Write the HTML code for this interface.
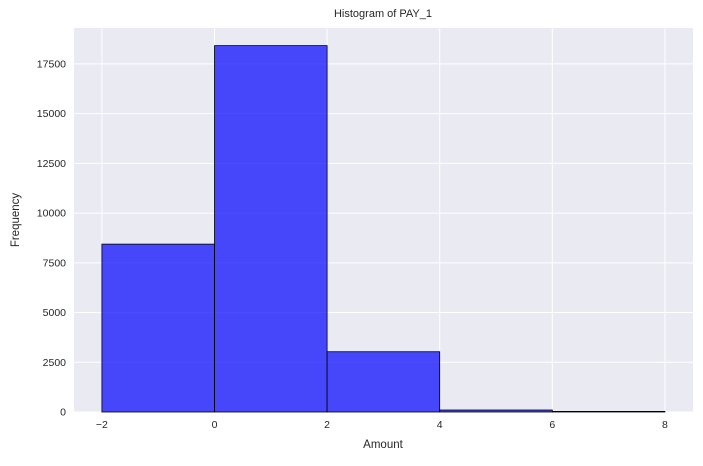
<!DOCTYPE html>
<html><head><meta charset="utf-8"><style>
body{margin:0;background:#fff;font-family:"Liberation Sans",sans-serif;}
</style></head><body>
<svg width="703" height="461" id="c" font-family="Liberation Sans, sans-serif">
<rect x="74" y="28" width="619" height="384" fill="#eaeaf2"/>
<g id="grid"></g><g id="bars"></g><g id="ticks"></g>
<text x="383" y="17" text-anchor="middle" font-size="11" fill="#262626">Histogram of PAY_1</text>
<text x="383" y="448" text-anchor="middle" font-size="11.5" fill="#262626">Amount</text>
<text x="19" y="220" text-anchor="middle" font-size="11.5" fill="#262626" transform="rotate(-90 19 220)">Frequency</text>
</svg>
<script>
const binEdges=[-2,0,2,4,6,8];
const counts=[8440,18420,3030,100,30];
const xTicks=[-2,0,2,4,6,8];
const yTicks=[0,2500,5000,7500,10000,12500,15000,17500];
const x=v=>214.5+(v)*56.3;
const y=v=>412-v*0.01989;
const ns="http://www.w3.org/2000/svg";
function mk(t,a,p){const e=document.createElementNS(ns,t);for(const k in a)e.setAttribute(k,a[k]);document.getElementById(p).appendChild(e);return e;}
xTicks.forEach(t=>{
  const l=mk('line',{x1:x(t),x2:x(t),y1:28,y2:412,stroke:'#fff','stroke-width':1},'grid');
  
  
  const s=mk('text',{x:x(t),y:428,'text-anchor':'middle','font-size':10.5,fill:'#262626'},'ticks');
  s.textContent=t<0?'\u2212'+(-t):t;
  
  
});
yTicks.forEach(t=>{
  const l=mk('line',{x1:74,x2:693,y1:y(t),y2:y(t),stroke:'#fff','stroke-width':1},'grid');
  
  
  const s=mk('text',{x:66,y:y(t)+3.5,'text-anchor':'end','font-size':10.5,fill:'#262626'},'ticks');
  s.textContent=t;
  
  
});
counts.forEach((c,i)=>{
  const r=mk('rect',{x:x(binEdges[i]),y:y(c),width:x(binEdges[i+1])-x(binEdges[i]),height:412-y(c),fill:'rgba(0,0,255,0.7)',stroke:'#000','stroke-width':0.8},'bars');
  
  
});
</script>
</body></html>
